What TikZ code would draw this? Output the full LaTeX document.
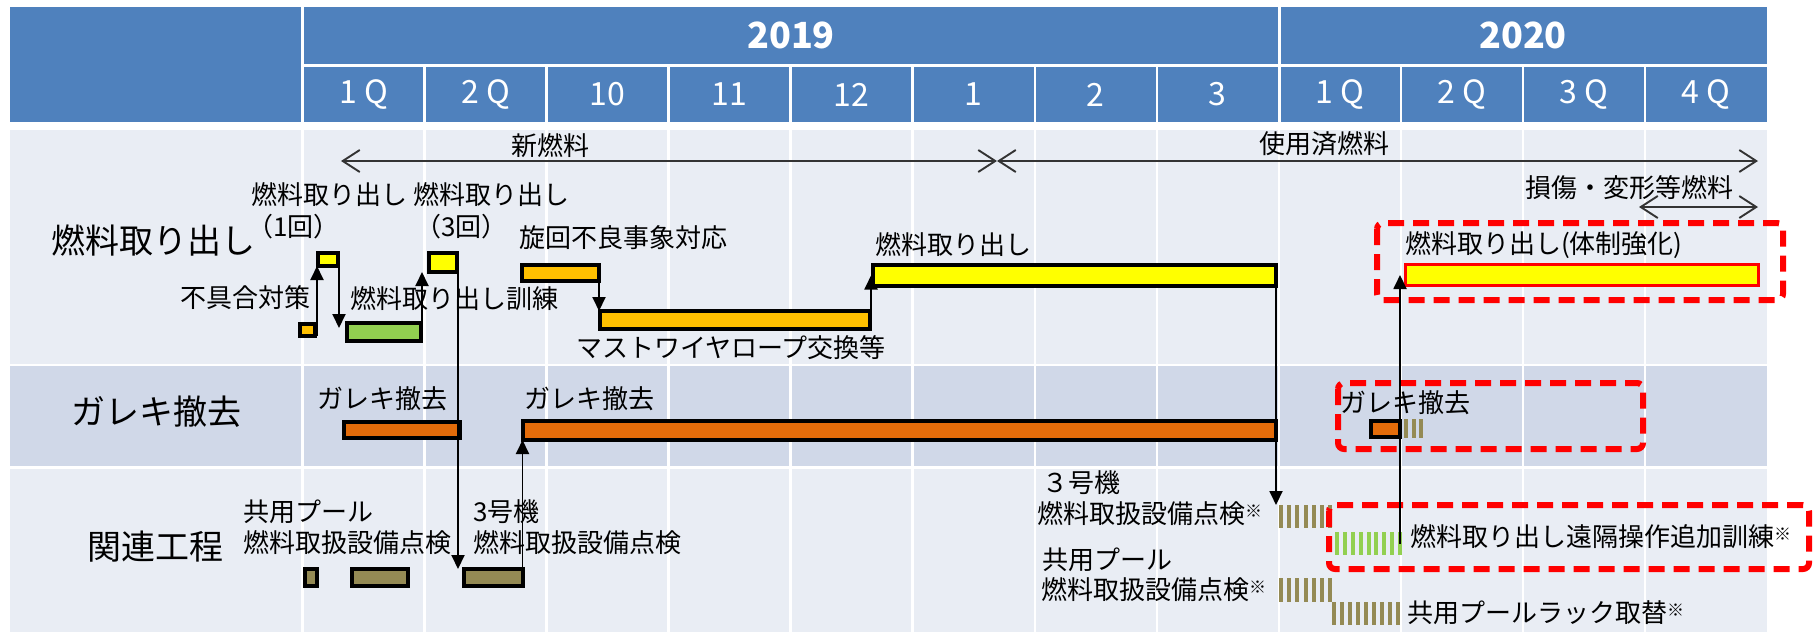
\documentclass[tikz,border=0pt]{standalone}
\usepackage{fontspec}
\setmainfont{Noto Sans CJK JP}
\usetikzlibrary{arrows.meta}
\definecolor{hdr}{HTML}{4F81BD}
\definecolor{rowA}{HTML}{E9EDF4}
\definecolor{rowB}{HTML}{D0D8E8}
\definecolor{byel}{HTML}{FFFF00}
\definecolor{borg}{HTML}{FFC000}
\definecolor{bgrn}{HTML}{92D050}
\definecolor{bgar}{HTML}{E46C0A}
\definecolor{bolv}{HTML}{948A54}
\definecolor{bred}{HTML}{FF0000}
\newcommand\barnode[6]{\node[bx,#2,minimum width={#5-#3-4},minimum height={#6-#4-4}] (#1) at ({#3+2},{#4+2}) {};}
\newcommand\stripes[6]{%
  \node[inner sep=0pt,outer sep=0pt,anchor=north west,minimum width={#5-#3},minimum height={#6-#4}] (#1) at (#3,#4) {};%
  \pgfmathtruncatemacro\nst{round((#5-#3-4)/7.6)}%
  \pgfmathsetmacro\pst{(#5-#3-4)/\nst}%
  \foreach \k in {0,...,\nst}{\fill[#2] ({#3+\k*\pst},#4) rectangle ++(4,{#6-#4});}%
}
\newcommand\kome{\raisebox{6pt}{\fontsize{17}{17}\selectfont ※}}
\newcommand\qsp[2]{#1\hspace{7pt}#2}
\begin{document}
\begin{tikzpicture}[x=1pt,y=-1pt,
  bx/.style={draw=black,line width=4pt,inner sep=0pt,outer sep=0pt,anchor=north west},
  sm/.style={inner sep=0pt,outer sep=0pt,anchor=west,font=\fontsize{26}{30}\selectfont},
  bg/.style={inner sep=0pt,anchor=west,font=\fontsize{34}{40}\selectfont},
  hq/.style={inner sep=0pt,text=white,font=\fontsize{32}{36}\selectfont},
  hy/.style={inner sep=0pt,text=white,font=\fontsize{36}{40}\selectfont\bfseries},
  conn/.style={draw=black,line width=1.9pt,-{Triangle[length=14pt,width=13pt]}},
  dbl/.style={draw=black!80,line width=1.9pt,{Straight Barb[length=17pt,width=22pt]}-{Straight Barb[length=17pt,width=22pt]}},
  dbox/.style={draw=bred,line width=6pt,dash pattern=on 16pt off 9pt,rounded corners=6pt},
  wline/.style={draw=white,line width=2.5pt}]
\useasboundingbox (0,0) rectangle (1814,632);
\fill[white] (0,0) rectangle (1814,632);
% header
\fill[hdr] (10,7) rectangle (1767,122);
\draw[wline] (302.5,7) -- (302.5,122);
\draw[wline] (1279.5,7) -- (1279.5,122);
\draw[wline] (302.5,65.5) -- (1767,65.5);
\foreach \i in {1,...,11} \draw[wline] ({302.5+122.04*\i},65.5) -- ({302.5+122.04*\i},122);
\node[hy] (y2019) at (791,35.5) {2019};
\node[hy] (y2020) at (1523,35.5) {2020};
\foreach \lab [count=\i] in {\qsp1Q,\qsp2Q,10,11,12,1,2,3,\qsp1Q,\qsp2Q,\qsp3Q,\qsp4Q}
  \node[hq] (q\i) at ({302.5+122.04*(\i-0.5)},94.5) {\lab};
% body
\fill[rowA] (10,130) rectangle (1767,632);
\fill[rowB] (10,365) rectangle (1767,467);
\foreach \i in {0,...,11} \draw[wline] ({302.5+122.04*\i},130) -- ({302.5+122.04*\i},632);
\draw[wline,line width=2.5pt] (10,365.2) -- (1767,365.2);
\draw[wline,line width=3pt] (10,467.5) -- (1767,467.5);
% row labels
\node[bg] (r1) at (51,240) {燃料取り出し};
\node[bg] (r2) at (71,412) {ガレキ撤去};
\node[bg] (r3) at (87,547) {関連工程};
% top arrows
\coordinate (nfL) at (341,161);
\coordinate (nfR) at (997,161);
\coordinate (ufR) at (1758,161);
\coordinate (dmL) at (1639,207);
\coordinate (dmR) at (1758,207);
\draw[dbl] (nfL) -- (nfR);
\draw[dbl] (nfR) -- (ufR);
\draw[dbl] (dmL) -- (dmR);
\node[sm] (tnew) at (511,146) {新燃料};
\node[sm] (tused) at (1259,144) {使用済燃料};
\node[sm] (tdmg) at (1525,188) {損傷・変形等燃料};
% row 1 bars
\barnode{ob}{fill=borg}{298}{322}{317}{338}
\barnode{yb1}{fill=byel}{316}{251}{340}{268}
\barnode{gr}{fill=bgrn}{344.5}{321}{423}{343}
\barnode{yb3}{fill=byel}{427}{251}{459}{274}
\barnode{og}{fill=borg}{520}{263}{601}{283}
\barnode{ma}{fill=borg}{598}{309}{872}{331}
\barnode{yl}{fill=byel}{871}{263}{1278}{288}
\node[draw=bred,line width=3pt,fill=byel,inner sep=0pt,outer sep=0pt,anchor=north west,minimum width=353pt,minimum height=21pt] (yr) at (1405.5,264.5) {};
% row 1 labels
\node[sm] (t1a) at (251,195) {燃料取り出し};
\node[sm] (t3a) at (413,195) {燃料取り出し};
\node[sm,anchor=center] (t1b) at (293.5,227) {（1回）};
\node[sm,anchor=center] (t3b) at (461.5,227) {（3回）};
\node[sm] (tsen) at (519,238) {旋回不良事象対応};
\node[sm] (tfug) at (180,298) {不具合対策};
\node[sm] (tkun) at (350,299) {燃料取り出し訓練};
\node[sm] (tlong) at (875,245) {燃料取り出し};
\node[sm] (tmast) at (576,348) {マストワイヤロープ交換等};
\node[sm] (ttai) at (1405,245) {燃料取り出し(体制強化)};
% row 2
\barnode{ga1}{fill=bgar}{342}{420}{462}{440}
\barnode{ga2}{fill=bgar}{521}{419}{1278}{442}
\barnode{ga3}{fill=bgar}{1368.5}{419}{1402}{439}
\stripes{sga}{bolv}{1404}{419}{1423}{438}
\node[sm] (tg1) at (317,399) {ガレキ撤去};
\node[sm] (tg2) at (524,399) {ガレキ撤去};
\node[sm] (tg3) at (1340,403) {ガレキ撤去};
% row 3
\barnode{ol1}{fill=bolv}{302.5}{567}{319}{588}
\barnode{ol2}{fill=bolv}{349.5}{567}{410}{588}
\barnode{ol3}{fill=bolv}{462}{567}{524.5}{588}
\stripes{st3}{bolv}{1279}{505}{1332}{528}
\stripes{stp}{bolv}{1279}{578}{1332}{602}
\stripes{str}{bolv}{1332}{602}{1400}{625}
\stripes{sg}{bgrn}{1335}{532}{1402}{555}
\node[sm] (tk1) at (243,512) {共用プール};
\node[sm] (tk2) at (243,543) {燃料取扱設備点検};
\node[sm] (tn1) at (473,512) {3号機};
\node[sm] (tn2) at (473,543) {燃料取扱設備点検};
\node[sm] (tn3) at (1042,483) {３号機};
\node[sm] (tn4) at (1037,514) {燃料取扱設備点検\kome};
\node[sm] (tk3) at (1042,560) {共用プール};
\node[sm] (tk4) at (1041,590) {燃料取扱設備点検\kome};
\node[sm] (tenk) at (1410,537) {燃料取り出し遠隔操作追加訓練\kome};
\node[sm] (track) at (1407,613) {共用プールラック取替\kome};
% red dashed boxes
\draw[dbox] (1377,223) rectangle (1783,300);
\draw[dbox] (1338,383) rectangle (1643,449);
\draw[dbox] (1329,505) rectangle (1809,569);
% connectors
\draw[conn] ([xshift=2pt]ob.south east) -- ([xshift=2pt]ob.south east |- yb1.south);
\draw[conn] ([xshift=1pt]yb1.north east) -- ([xshift=1pt,yshift=-5pt]yb1.north east |- gr.north);
\draw[conn] ([xshift=1pt]gr.south east) -- ([xshift=1pt]gr.south east |- yb3.south);
\draw[conn] ([xshift=1pt]yb3.south east) -- ([xshift=1pt]yb3.south east |- ol3.north);
\draw[conn] (ol3.north east) -- (ol3.north east |- ga2.south);
\draw[conn] (og.south east) -- (og.south east |- ma.north);
\draw[conn] ([xshift=1pt]ma.north east) -- ([xshift=1pt]ma.north east |- yl.west);
\draw[conn] (yl.south east) -- (yl.south east |- st3.north);
\draw[conn] ([xshift=-2pt]sg.east) -- ([xshift=-2pt]sg.east |- yr.west);
\end{tikzpicture}
\end{document}
